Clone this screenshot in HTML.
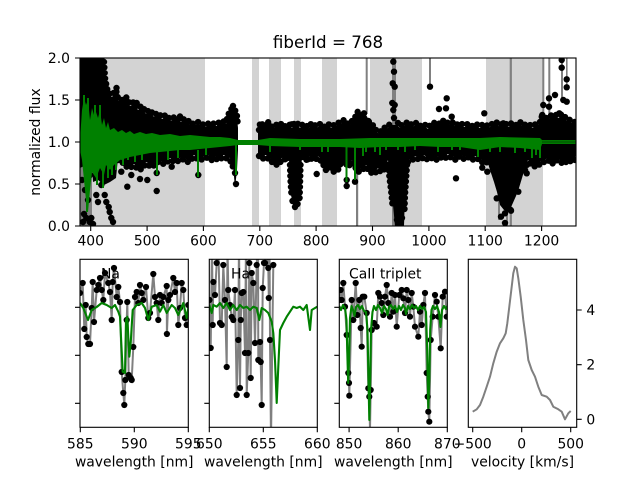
<!DOCTYPE html>
<html><head><meta charset="utf-8"><style>
html,body{margin:0;padding:0;background:#fff;}
svg{display:block;}
text{font-family:"DejaVu Sans","Liberation Sans",sans-serif;fill:#000;}
</style></head><body>
<svg width="640" height="480" viewBox="0 0 640 480" xmlns="http://www.w3.org/2000/svg">
<defs>
<clipPath id="c0"><rect x="80" y="58" width="496" height="168"/></clipPath>
<clipPath id="c1"><rect x="80" y="259.3" width="108.3" height="168"/></clipPath>
<clipPath id="c2"><rect x="209.3" y="259.3" width="108" height="168"/></clipPath>
<clipPath id="c3"><rect x="339.3" y="259.3" width="108" height="168"/></clipPath>
<clipPath id="c4"><rect x="468.3" y="259.3" width="108.4" height="168"/></clipPath>
</defs>
<rect width="640" height="480" fill="#fff"/>

<!-- ============ TOP PANEL ============ -->
<g clip-path="url(#c0)">
<g fill="#d3d3d3">
<rect x="80" y="58" width="125" height="168"/>
<rect x="252" y="58" width="7" height="168"/>
<rect x="269" y="58" width="12" height="168"/>
<rect x="294" y="58" width="7" height="168"/>
<rect x="322" y="58" width="15" height="168"/>
<rect x="370" y="58" width="52" height="168"/>
<rect x="486" y="58" width="57" height="168"/>
</g>
<g fill="#808080">
<rect x="80" y="58" width="12" height="168"/>
<rect x="101" y="58" width="4" height="40"/>
<rect x="356" y="160" width="2.2" height="66"/>
<rect x="365.7" y="58" width="2" height="56"/>
<rect x="429" y="58" width="2" height="30"/>
<rect x="392" y="58" width="4" height="168"/>
<rect x="509.7" y="58" width="2.2" height="168"/>
<rect x="542.3" y="58" width="2" height="56"/>
<rect x="548.3" y="58" width="2" height="62"/>
<rect x="561" y="58" width="2" height="40"/>
<rect x="566" y="58" width="1.6" height="30"/>
<rect x="498" y="170" width="2" height="50"/>
<rect x="506" y="170" width="2" height="56"/>
</g>
<!-- black band left -->
<polygon fill="#000" points="80,58 104,58 105,80 108,95 112,97 116,92 118,100 122,102 126,99 130,106 134,104 138,110 142,108 146,114 150,112 154,117 158,115 162,119 166,117 170,121 175,119 180,122 186,121 192,126 198,124 204,127 210,125 216,126 222,123 226,124 229,115 232,110 235,112 237,118 238,128 238,150 237,170 235,188 233,165 230,158 224,155 218,158 212,154 206,156 200,158 194,155 188,160 182,157 176,160 170,158 164,162 158,160 152,165 146,162 140,168 134,164 128,166 122,160 118,158 116,178 110,182 104,185 98,180 93,182 92,168 86,165 80,168"/>
<!-- black band right -->
<polygon fill="#000" points="258,132 260,126 264,128 268,124 272,129 276,127 280,125 284,129 288,126 292,128 296,124 300,128 304,126 308,129 312,125 316,128 320,126 324,129 328,126 332,128 336,126 340,124 344,122 348,126 352,123 356,118 358,113 360,117 364,120 368,123 372,126 376,132 380,134 384,130 388,128 391,125 397,125 400,128 404,126 408,124 412,127 416,125 420,128 424,126 428,129 432,126 436,124 440,126 444,122 448,125 452,124 456,127 460,125 464,127 468,126 472,128 476,126 480,128 484,126 488,128 492,126 496,124 500,127 504,125 508,127 512,125 516,127 520,124 524,127 528,126 532,128 536,126 540,124 542,118 546,120 550,118 554,116 558,118 562,116 566,120 570,122 574,124 576,124 576,156 572,160 568,158 564,162 560,160 556,158 552,162 548,158 544,160 540,162 536,165 532,163 528,160 525,168 522,178 519,188 516,196 512,205 508,212 504,210 500,205 497,192 494,182 490,170 487,160 484,162 480,158 476,156 472,158 468,155 464,157 460,154 456,158 452,156 448,154 444,157 440,155 436,158 432,156 428,158 424,155 420,158 416,156 412,158 408,160 406,175 405,195 404,226 395,226 393,205 391,192 389,172 388,160 386,165 382,170 378,168 374,172 370,170 366,165 362,168 358,170 355,165 352,160 348,165 345,160 342,158 338,168 334,170 330,165 326,168 322,160 318,156 314,158 310,156 306,158 302,155 301,175 300,195 299,203 296,207 293,205 291,195 290,178 289,160 286,157 282,158 278,163 274,162 270,158 266,155 262,157 258,154"/>
<!-- dotted edge texture -->
<g stroke="#000" stroke-width="6.4" stroke-dasharray="0 5.5" stroke-linecap="round" fill="none">
<path d="M104,62 L105,78 108,93 112,95 116,90 118,98 122,100 126,97 130,104 134,102 138,108 142,106 146,112 150,110 154,115 158,113 162,117 166,115 170,119 175,117 180,120 186,119 192,124 198,122 204,125 210,123 216,124 222,121 226,122 229,113 232,108 235,110 237,116 238,126"/>
<path d="M118,160 L122,162 128,168 134,166 140,170 146,164 152,167 158,162 164,164 170,160 176,162 182,159 188,162 194,157 200,160 206,158 212,156 218,160 224,157 230,160 233,167"/>
<path d="M259,130 L260,124 264,126 268,122 272,127 276,125 280,123 284,127 288,124 292,126 296,122 300,126 304,124 308,127 312,123 316,126 320,124 324,127 328,124 332,126 336,124 340,122 344,120 348,124 352,121 356,116 358,111 360,115 364,118 368,121 372,124 376,130 380,132 384,128 388,126 391,123"/>
<path d="M398,123 L400,126 404,124 408,122 412,125 416,123 420,126 424,124 428,127 432,124 436,122 440,124 444,120 448,123 452,122 456,125 460,123 464,125 468,124 472,126 476,124 480,126 484,124 488,126 492,124 496,122 500,125 504,123 508,125 512,123 516,125 520,122 524,125 528,124 532,126 536,124 540,122 542,116 546,118 550,116 554,114 558,116 562,114 566,118 570,120 574,122 578,122"/>
<path d="M259,156 L262,159 266,157 270,160 274,164 278,165 282,160 286,159 289,162 M302,157 L306,160 310,158 314,160 318,158 322,162 326,170 330,167 334,172 338,170 342,160 345,162 348,167 352,162 355,167 358,172 362,170 366,167 370,172 374,174 378,170 382,172 386,167 389,162"/>
<path d="M408,162 L412,160 416,158 420,160 424,157 428,160 432,158 436,160 440,157 444,159 448,156 452,158 456,160 460,156 464,159 468,157 472,160 476,158 480,160 484,164 487,162 M525,170 L528,162 532,165 536,167 540,164 544,162 548,160 552,164 556,160 560,162 564,164 568,160 572,162 578,158"/>
<path d="M290,165 L290.5,180 291.5,195 M300.5,165 L300,185 299.5,200 M388.5,165 L389.5,178 391,190 392.5,205 M407,165 L406,180 405,195 404.5,210"/>
</g>
<!-- outlier dots -->
<g fill="#000">
<circle cx="116.5" cy="88" r="3.2"/><circle cx="123.3" cy="105.7" r="3.2"/><circle cx="136.7" cy="103" r="3.2"/><circle cx="180" cy="116.5" r="3.2"/><circle cx="234.5" cy="111.5" r="3.2"/><circle cx="233" cy="106" r="3.2"/><circle cx="235" cy="118" r="3.2"/>
<circle cx="127.3" cy="186.7" r="3.2"/><circle cx="140" cy="179" r="3.2"/><circle cx="147.3" cy="180" r="3.2"/><circle cx="156.7" cy="191" r="3.2"/><circle cx="156.7" cy="173" r="3.2"/><circle cx="171.7" cy="166.7" r="3.2"/><circle cx="198.3" cy="175" r="3.2"/><circle cx="211.7" cy="160" r="3.2"/><circle cx="236" cy="184" r="3.2"/><circle cx="235" cy="173" r="3.2"/><circle cx="121.3" cy="171.7" r="3.2"/><circle cx="131.3" cy="175" r="3.2"/>
<circle cx="86.3" cy="218" r="3.2"/><circle cx="89.7" cy="222" r="3.2"/><circle cx="91.3" cy="218" r="3.2"/><circle cx="96.3" cy="195" r="3.2"/><circle cx="98" cy="202" r="3.2"/><circle cx="101.3" cy="185" r="3.2"/><circle cx="104.7" cy="195" r="3.2"/><circle cx="106.3" cy="202" r="3.2"/><circle cx="108.7" cy="207" r="3.2"/><circle cx="109.7" cy="212" r="3.2"/><circle cx="111.3" cy="218" r="3.2"/><circle cx="113" cy="222" r="3.2"/><circle cx="84" cy="214" r="3.2"/><circle cx="83" cy="222" r="3.2"/><circle cx="93" cy="224" r="3.2"/><circle cx="82" cy="180" r="3.2"/><circle cx="85" cy="190" r="3.2"/><circle cx="88" cy="200" r="3.2"/><circle cx="90" cy="175" r="3.2"/>
<circle cx="262.3" cy="124.3" r="3.2"/><circle cx="291.7" cy="124.3" r="3.2"/><circle cx="364" cy="113.3" r="3.2"/><circle cx="368.3" cy="121" r="3.2"/><circle cx="430" cy="86.7" r="3.2"/><circle cx="439" cy="109" r="3.2"/><circle cx="446.7" cy="98.3" r="3.2"/><circle cx="446" cy="108.3" r="3.2"/><circle cx="451.7" cy="116.7" r="3.2"/><circle cx="484.3" cy="113.3" r="3.2"/><circle cx="503.3" cy="123.3" r="3.2"/>
<circle cx="549" cy="98.3" r="3.2"/><circle cx="555" cy="95" r="3.2"/><circle cx="561.7" cy="67.7" r="3.2"/><circle cx="561.7" cy="60" r="3.2"/><circle cx="566.7" cy="79.3" r="3.2"/><circle cx="566.7" cy="87.3" r="3.2"/><circle cx="543.3" cy="105" r="3.2"/><circle cx="549" cy="106.7" r="3.2"/><circle cx="563.3" cy="100" r="3.2"/><circle cx="566.7" cy="101.7" r="3.2"/><circle cx="559.3" cy="113.3" r="3.2"/><circle cx="542.3" cy="115" r="3.2"/>
<circle cx="286.7" cy="158.3" r="3.2"/><circle cx="316.7" cy="174" r="3.2"/><circle cx="330" cy="166.7" r="3.2"/><circle cx="307.7" cy="159.3" r="3.2"/><circle cx="346.7" cy="186" r="3.2"/><circle cx="346.7" cy="180" r="3.2"/><circle cx="355" cy="181.7" r="3.2"/><circle cx="364.3" cy="168.3" r="3.2"/><circle cx="371.7" cy="168.3" r="3.2"/><circle cx="456" cy="178.3" r="3.2"/><circle cx="482.3" cy="167.7" r="3.2"/><circle cx="487.3" cy="171.7" r="3.2"/><circle cx="526.7" cy="173.3" r="3.2"/><circle cx="501" cy="216.7" r="3.2"/><circle cx="505" cy="213.3" r="3.2"/><circle cx="511" cy="210.7" r="3.2"/><circle cx="496.7" cy="198.3" r="3.2"/><circle cx="518.3" cy="191.7" r="3.2"/><circle cx="505" cy="223" r="3.2"/><circle cx="510.7" cy="210" r="3.2"/><circle cx="567.7" cy="159" r="3.2"/><circle cx="391.7" cy="192" r="3.2"/>
<circle cx="393.3" cy="61.7" r="3.2"/><circle cx="394" cy="71.7" r="3.2"/><circle cx="392.7" cy="83.3" r="3.2"/><circle cx="394.7" cy="86.7" r="3.2"/><circle cx="392.3" cy="103" r="3.2"/><circle cx="394.7" cy="105" r="3.2"/><circle cx="393.3" cy="110" r="3.2"/><circle cx="394" cy="118" r="3.2"/>
<circle cx="397" cy="220" r="3.2"/><circle cx="400" cy="224" r="3.2"/><circle cx="402" cy="218" r="3.2"/>
<circle cx="295" cy="207" r="3.2"/><circle cx="297.5" cy="204" r="3.2"/><circle cx="292.5" cy="201" r="3.2"/>
</g>
<!-- green -->
<polygon fill="#008000" points="80,140 82,110 84,98 86,105 88,100 90,120 92,108 94,115 96,112 98,118 100,110 102,125 104,118 106,128 108,122 110,130 114,128 118,132 122,130 126,133 130,131 134,134 140,132 146,134 152,133 160,135 170,134 180,136 190,135 200,136 210,137 220,137 230,138 238,140 258,140 270,138 300,139 340,139 370,138 400,138 440,138 480,138 500,137 540,138 542,140 576,140 576,144 542,144 540,150 520,148 500,147 480,150 460,147 440,147 420,146 400,147 380,147 360,148 340,147 300,147 270,146 258,145 238,145 230,146 220,147 210,148 200,149 190,150 180,150 170,151 160,152 150,153 140,155 130,157 120,160 114,165 110,170 106,165 104,175 100,168 96,178 92,172 90,190 88,212 86,200 84,180 82,160 80,150"/>
<g stroke="#008000" stroke-width="2" fill="none">
<path d="M87,140V212 M97,150V185 M103,150V188 M108,150V178 M112,150V175 M116,150V170 M123,150V165 M128,150V160 M135,150V162 M142,150V160 M157,150V175 M168,150V160 M178,150V158 M198,150V177 M206,148V155 M236,145V175 M346.5,145V182 M355,145V180 M270,145V152 M300,145V150 M322,145V152 M328,145V152 M375,145V152 M380,145V155 M386,145V150 M398,145V150 M405,145V152 M415,145V150 M438,145V152 M452,145V150 M460,145V150 M478,145V157 M490,145V152 M500,145V152 M515,145V153 M525,145V152 M532,145V158 M536,145V155 M540,145V158 M363,145V156 M366,145V152 M84,140V95 M88,140V98 M95,140V105 M100,140V105"/>
</g>
<path d="M542,142H576" stroke="#006400" stroke-width="2.5"/>
</g>
<rect x="80" y="58" width="496" height="168" fill="none" stroke="#000" stroke-width="1.1"/>
<!-- top ticks -->
<g stroke="#000" stroke-width="1.1">
<path d="M90.7,226v5 M147.1,226v5 M203.4,226v5 M259.8,226v5 M316.1,226v5 M372.5,226v5 M428.9,226v5 M485.2,226v5 M541.6,226v5"/>
<path d="M80,226h-5 M80,184h-5 M80,142h-5 M80,100h-5 M80,58h-5"/>
</g>
<g font-size="13.9" text-anchor="middle">
<text x="90.7" y="245.5">400</text><text x="147.1" y="245.5">500</text><text x="203.4" y="245.5">600</text><text x="259.8" y="245.5">700</text><text x="316.1" y="245.5">800</text><text x="372.5" y="245.5">900</text><text x="428.9" y="245.5">1000</text><text x="485.2" y="245.5">1100</text><text x="541.6" y="245.5">1200</text>
</g>
<g font-size="13.9" text-anchor="end">
<text x="70" y="231">0.0</text><text x="70" y="189">0.5</text><text x="70" y="147">1.0</text><text x="70" y="105">1.5</text><text x="70" y="63">2.0</text>
</g>
<text x="40" y="142" font-size="13.9" text-anchor="middle" transform="rotate(-90 40 142)">normalized flux</text>
<text x="328" y="48" font-size="16.7" text-anchor="middle">fiberId = 768</text>

<!-- ============ PANEL 1: Na ============ -->
<g clip-path="url(#c1)">
<polyline fill="none" stroke="#808080" stroke-width="2" points="80,293 82.7,283 84.3,329 85.7,305 86.7,337 88.3,344 90,344 91.7,308 92.7,282 94,322 96.7,290 98.3,285 100,278 101.7,290 103.3,300 105,273 108.3,283 110,292 111.7,320 112.7,282 114,268 116.7,297 118.3,287 120,302 121.7,372 123.3,393 124.3,405 125.3,380 126.7,320 127.3,302 128.7,375 130.7,378 131.7,380 133.3,347 135,297 136.7,292 138.3,303 140,285 141.7,293 143.3,300 146,287 148.3,318 150,313 153.3,274 155,297 156.7,303 158.3,320 160,295 161.7,303 163.3,297 166.7,286 166.9,334 168.3,300 170,295 173.3,278 175,292 176.7,283 178.3,325 180,308 181.7,283 183.3,290 185,318 186.7,325 188.3,305"/>
<g fill="#000">
<circle cx="80" cy="293" r="3.1"/><circle cx="82.7" cy="283" r="3.1"/><circle cx="84.3" cy="329" r="3.1"/><circle cx="85.7" cy="305" r="3.1"/><circle cx="86.7" cy="337" r="3.1"/><circle cx="88.3" cy="344" r="3.1"/><circle cx="90" cy="344" r="3.1"/><circle cx="91.7" cy="308" r="3.1"/><circle cx="92.7" cy="282" r="3.1"/><circle cx="94" cy="322" r="3.1"/><circle cx="96.7" cy="290" r="3.1"/><circle cx="98.3" cy="285" r="3.1"/><circle cx="100" cy="278" r="3.1"/><circle cx="101.7" cy="290" r="3.1"/><circle cx="103.3" cy="300" r="3.1"/><circle cx="105" cy="273" r="3.1"/><circle cx="108.3" cy="283" r="3.1"/><circle cx="110" cy="292" r="3.1"/><circle cx="111.7" cy="320" r="3.1"/><circle cx="112.7" cy="282" r="3.1"/><circle cx="114" cy="268" r="3.1"/><circle cx="116.7" cy="297" r="3.1"/><circle cx="118.3" cy="287" r="3.1"/><circle cx="120" cy="302" r="3.1"/><circle cx="121.7" cy="372" r="3.1"/><circle cx="123.3" cy="393" r="3.1"/><circle cx="124.3" cy="405" r="3.1"/><circle cx="125.3" cy="380" r="3.1"/><circle cx="126.7" cy="320" r="3.1"/><circle cx="127.3" cy="302" r="3.1"/><circle cx="128.7" cy="375" r="3.1"/><circle cx="130.7" cy="378" r="3.1"/><circle cx="131.7" cy="380" r="3.1"/><circle cx="133.3" cy="347" r="3.1"/><circle cx="135" cy="297" r="3.1"/><circle cx="136.7" cy="292" r="3.1"/><circle cx="138.3" cy="303" r="3.1"/><circle cx="140" cy="285" r="3.1"/><circle cx="141.7" cy="293" r="3.1"/><circle cx="143.3" cy="300" r="3.1"/><circle cx="146" cy="287" r="3.1"/><circle cx="148.3" cy="318" r="3.1"/><circle cx="150" cy="313" r="3.1"/><circle cx="153.3" cy="274" r="3.1"/><circle cx="155" cy="297" r="3.1"/><circle cx="156.7" cy="303" r="3.1"/><circle cx="158.3" cy="320" r="3.1"/><circle cx="160" cy="295" r="3.1"/><circle cx="161.7" cy="303" r="3.1"/><circle cx="163.3" cy="297" r="3.1"/><circle cx="166.7" cy="286" r="3.1"/><circle cx="166.9" cy="334" r="3.1"/><circle cx="168.3" cy="300" r="3.1"/><circle cx="170" cy="295" r="3.1"/><circle cx="173.3" cy="278" r="3.1"/><circle cx="175" cy="292" r="3.1"/><circle cx="176.7" cy="283" r="3.1"/><circle cx="178.3" cy="325" r="3.1"/><circle cx="180" cy="308" r="3.1"/><circle cx="181.7" cy="283" r="3.1"/><circle cx="183.3" cy="290" r="3.1"/><circle cx="185" cy="318" r="3.1"/><circle cx="186.7" cy="325" r="3.1"/><circle cx="188.3" cy="305" r="3.1"/>
</g>
<polyline fill="none" stroke="#008000" stroke-width="2.1" stroke-linejoin="round" points="80,303 83.3,308 88,320 91.7,310 96.7,307 101.7,303 106.7,305 111.7,308 115,305 118.3,311.7 120,316.7 122.7,371.7 125,373 126,320 127.3,316.7 129.3,356.7 130.7,343 132.7,310 136.7,305 141.7,303 145,308 148.3,320 151.7,306.7 156.7,305 160,311.7 163.3,305 166.7,313 171.7,305 175,308 178.3,315 183.3,303 186.7,318 188.3,308"/>
</g>
<rect x="80" y="259.3" width="108.3" height="168" fill="none" stroke="#000" stroke-width="1.1"/>
<text x="101" y="278.3" font-size="13.9">Na</text>

<!-- ============ PANEL 2: Ha ============ -->
<g clip-path="url(#c2)">
<polyline fill="none" stroke="#808080" stroke-width="2" points="209.5,300 210.7,348 212,240 212.7,325 213.3,282 215,295 216.7,263 218,230 220,323 221.7,325 223.3,265 225,300 226.7,367 227.5,245 228.3,290 230,305 231.7,317 233.3,320 235,290 236.7,395 238.3,340 239,235 240,388 240.8,320 241.7,293 243.3,292 245,353 246,240 246.7,395 248.3,353 249.3,263 250.7,378 251.7,273 253.3,283 255,343 256.7,265 258,230 258.3,360 260,342 260.7,362 261.7,405 262.7,288 264,263 265,263 266,245 268.3,268 268.8,298 269.5,238 270,340 271,440 273.3,265"/>
<g fill="#000">
<circle cx="209.5" cy="300" r="3.1"/><circle cx="210.7" cy="348" r="3.1"/><circle cx="212.7" cy="325" r="3.1"/><circle cx="213.3" cy="282" r="3.1"/><circle cx="215" cy="295" r="3.1"/><circle cx="216.7" cy="263" r="3.1"/><circle cx="220" cy="323" r="3.1"/><circle cx="221.7" cy="325" r="3.1"/><circle cx="223.3" cy="265" r="3.1"/><circle cx="225" cy="300" r="3.1"/><circle cx="226.7" cy="367" r="3.1"/><circle cx="228.3" cy="290" r="3.1"/><circle cx="230" cy="305" r="3.1"/><circle cx="231.7" cy="317" r="3.1"/><circle cx="233.3" cy="320" r="3.1"/><circle cx="235" cy="290" r="3.1"/><circle cx="236.7" cy="395" r="3.1"/><circle cx="238.3" cy="340" r="3.1"/><circle cx="240" cy="388" r="3.1"/><circle cx="240.8" cy="320" r="3.1"/><circle cx="241.7" cy="293" r="3.1"/><circle cx="243.3" cy="292" r="3.1"/><circle cx="245" cy="353" r="3.1"/><circle cx="246.7" cy="395" r="3.1"/><circle cx="248.3" cy="353" r="3.1"/><circle cx="249.3" cy="263" r="3.1"/><circle cx="250.7" cy="378" r="3.1"/><circle cx="251.7" cy="273" r="3.1"/><circle cx="253.3" cy="283" r="3.1"/><circle cx="255" cy="343" r="3.1"/><circle cx="256.7" cy="265" r="3.1"/><circle cx="258.3" cy="360" r="3.1"/><circle cx="260" cy="342" r="3.1"/><circle cx="260.7" cy="362" r="3.1"/><circle cx="261.7" cy="405" r="3.1"/><circle cx="262.7" cy="288" r="3.1"/><circle cx="264" cy="263" r="3.1"/><circle cx="265" cy="263" r="3.1"/><circle cx="268.3" cy="268" r="3.1"/><circle cx="268.8" cy="298" r="3.1"/><circle cx="270" cy="340" r="3.1"/><circle cx="273.3" cy="265" r="3.1"/>
</g>
<polyline fill="none" stroke="#008000" stroke-width="2.1" stroke-linejoin="round" points="209.3,305 211.7,313 213.3,305 216.7,306.7 220,303 223.3,308 226.7,303 230,310 233.3,305 236.7,310 240,305 243.3,308 246.7,306.7 250,310 253.3,306.7 256.7,308 259.3,320 261.7,308 265,310 268.3,313 271.7,321.7 273.3,333 275,360 276.7,403 278.3,366.7 280,330 283.3,323 286.7,316.7 290,311.7 293.3,306.7 296.7,308 300,306.7 303.3,310 306.7,305 310,330 311.7,310 315,308 317.3,306.7"/>
</g>
<rect x="209.3" y="259.3" width="108" height="168" fill="none" stroke="#000" stroke-width="1.1"/>
<text x="231" y="278.3" font-size="13.9">Ha</text>

<!-- ============ PANEL 3: CaII ============ -->
<g clip-path="url(#c3)">
<polyline fill="none" stroke="#808080" stroke-width="2" points="339.5,300 340.7,290 341.7,300 343.3,283 345,306.7 346.7,335 348.3,373 349,383 349.3,395.7 351.7,300 353.3,320 355.7,283 357.3,315 359.3,300 360.7,328 361.7,346.7 362.7,296.7 364.3,296.7 366.7,313 368.3,388.3 369.3,396.7 370,430 370.7,390 371.7,330 374,323 376.7,326.7 378.3,293 380,296.7 381.7,303 383.3,315 385,296.7 386.7,285 388.3,303 390,316.7 391.7,293 393.3,311.7 395,295 396.7,326.7 399.3,295 401.7,290 403.3,298.3 405,313 406.7,290 408.3,300 410,316.7 411.7,293 413.3,306.7 415,326.7 418.3,336.7 420,311.7 421.7,325 423.3,305 425,293 426.7,373 427.7,396.7 428.3,411.7 429.3,421.7 430.7,340 432.7,316.7 435,295 436.7,301.7 438.3,316.7 440.7,348.3 442.7,296.7 445,291.7 446.7,316.7"/>
<g fill="#000">
<circle cx="339.5" cy="300" r="3.1"/><circle cx="340.7" cy="290" r="3.1"/><circle cx="341.7" cy="300" r="3.1"/><circle cx="343.3" cy="283" r="3.1"/><circle cx="345" cy="306.7" r="3.1"/><circle cx="346.7" cy="335" r="3.1"/><circle cx="348.3" cy="373" r="3.1"/><circle cx="349" cy="383" r="3.1"/><circle cx="349.3" cy="395.7" r="3.1"/><circle cx="351.7" cy="300" r="3.1"/><circle cx="353.3" cy="320" r="3.1"/><circle cx="355.7" cy="283" r="3.1"/><circle cx="357.3" cy="315" r="3.1"/><circle cx="359.3" cy="300" r="3.1"/><circle cx="360.7" cy="328" r="3.1"/><circle cx="361.7" cy="346.7" r="3.1"/><circle cx="362.7" cy="296.7" r="3.1"/><circle cx="364.3" cy="296.7" r="3.1"/><circle cx="366.7" cy="313" r="3.1"/><circle cx="368.3" cy="388.3" r="3.1"/><circle cx="369.3" cy="396.7" r="3.1"/><circle cx="370.7" cy="390" r="3.1"/><circle cx="371.7" cy="330" r="3.1"/><circle cx="374" cy="323" r="3.1"/><circle cx="376.7" cy="326.7" r="3.1"/><circle cx="378.3" cy="293" r="3.1"/><circle cx="380" cy="296.7" r="3.1"/><circle cx="381.7" cy="303" r="3.1"/><circle cx="383.3" cy="315" r="3.1"/><circle cx="385" cy="296.7" r="3.1"/><circle cx="386.7" cy="285" r="3.1"/><circle cx="388.3" cy="303" r="3.1"/><circle cx="390" cy="316.7" r="3.1"/><circle cx="391.7" cy="293" r="3.1"/><circle cx="393.3" cy="311.7" r="3.1"/><circle cx="395" cy="295" r="3.1"/><circle cx="396.7" cy="326.7" r="3.1"/><circle cx="399.3" cy="295" r="3.1"/><circle cx="401.7" cy="290" r="3.1"/><circle cx="403.3" cy="298.3" r="3.1"/><circle cx="405" cy="313" r="3.1"/><circle cx="406.7" cy="290" r="3.1"/><circle cx="408.3" cy="300" r="3.1"/><circle cx="410" cy="316.7" r="3.1"/><circle cx="411.7" cy="293" r="3.1"/><circle cx="413.3" cy="306.7" r="3.1"/><circle cx="415" cy="326.7" r="3.1"/><circle cx="418.3" cy="336.7" r="3.1"/><circle cx="420" cy="311.7" r="3.1"/><circle cx="421.7" cy="325" r="3.1"/><circle cx="423.3" cy="305" r="3.1"/><circle cx="425" cy="293" r="3.1"/><circle cx="426.7" cy="373" r="3.1"/><circle cx="427.7" cy="396.7" r="3.1"/><circle cx="428.3" cy="411.7" r="3.1"/><circle cx="429.3" cy="421.7" r="3.1"/><circle cx="430.7" cy="340" r="3.1"/><circle cx="432.7" cy="316.7" r="3.1"/><circle cx="435" cy="295" r="3.1"/><circle cx="436.7" cy="301.7" r="3.1"/><circle cx="438.3" cy="316.7" r="3.1"/><circle cx="440.7" cy="348.3" r="3.1"/><circle cx="442.7" cy="296.7" r="3.1"/><circle cx="445" cy="291.7" r="3.1"/><circle cx="446.7" cy="316.7" r="3.1"/>
</g>
<polyline fill="none" stroke="#008000" stroke-width="2.1" stroke-linejoin="round" points="339.3,306 341,310 343,305 345,308 346.5,320 347.5,360 348.2,383 349,360 350,318 351.5,306 353,310 354.5,316 356,307 358,305 360,309 362,306 364,311 366,312 367.5,330 368.5,380 369.3,420 370.2,380 371,330 372.5,312 374,306 376,310 378,305 380,308 382,313 384,306 386,309 387.5,315 389,307 391,305 393,309 395,306 397,312 399,306 401,310 403,305 405,308 406,314 408,306 410,309 412,305 414,308 416,306 418,310 420,306 422,309 424,307 426,312 427.2,350 428.3,408 429.3,380 430.2,330 431.5,310 433,306 435,309 437,306 439,312 440.5,327 442,310 444,306 446,309 447.3,306"/>
</g>
<rect x="339.3" y="259.3" width="108" height="168" fill="none" stroke="#000" stroke-width="1.1"/>
<text x="349" y="278.3" font-size="13.9">CaII triplet</text>

<!-- ============ PANEL 4: velocity ============ -->
<g clip-path="url(#c4)">
<polyline fill="none" stroke="#808080" stroke-width="2" stroke-linejoin="round" points="472.7,411.7 476.7,409.3 480,405 483.3,396.7 486.7,386.7 490,376.7 493.3,363.3 496.7,351.7 500,343.3 503.3,338.3 505.7,333.3 507.3,323.3 509.3,306.7 511.7,286.7 513.3,273.3 515,266.7 516.7,268.3 518.3,278.3 520.7,296.7 523.3,320 526,340 528.3,360 531.7,370 535,376.7 538.3,386.7 541.7,395 546.7,396.7 550,400 553.3,406.7 558.3,409.3 561.7,411.7 565,419.3 568.3,413.3 570.7,411"/>
</g>
<rect x="468.3" y="259.3" width="108.4" height="168" fill="none" stroke="#000" stroke-width="1.1"/>

<!-- bottom ticks -->
<g stroke="#000" stroke-width="1.1">
<path d="M80.3,427.3v5 M134.3,427.3v5 M188.3,427.3v5 M209.3,427.3v5 M263.3,427.3v5 M317.3,427.3v5 M349.1,427.3v5 M398.2,427.3v5 M447.3,427.3v5 M472.7,427.3v5 M521.7,427.3v5 M570.7,427.3v5"/>
<path d="M80,307.3h-5 M80,355.3h-5 M80,403.3h-5 M209.3,307.3h-5 M209.3,355.3h-5 M209.3,403.3h-5 M339.3,307.3h-5 M339.3,355.3h-5 M339.3,403.3h-5"/>
<path d="M576.7,310h5 M576.7,364.7h5 M576.7,419.3h5"/>
</g>
<g font-size="13.9" text-anchor="middle">
<text x="80.3" y="448.3">585</text><text x="134.3" y="448.3">590</text><text x="188.3" y="448.3">595</text>
<text x="209.3" y="448.3">650</text><text x="263.3" y="448.3">655</text><text x="317.3" y="448.3">660</text>
<text x="349.1" y="448.3">850</text><text x="398.2" y="448.3">860</text><text x="447.3" y="448.3">870</text>
<text x="472.7" y="448.3">−500</text><text x="521.7" y="448.3">0</text><text x="570.7" y="448.3">500</text>
<text x="134.2" y="466.7">wavelength [nm]</text>
<text x="263.3" y="466.7">wavelength [nm]</text>
<text x="393.3" y="466.7">wavelength [nm]</text>
<text x="522.5" y="466.7">velocity [km/s]</text>
</g>
<g font-size="13.9">
<text x="586.4" y="315">4</text><text x="586.4" y="369.7">2</text><text x="586.4" y="424.3">0</text>
</g>
</svg>
</body></html>
